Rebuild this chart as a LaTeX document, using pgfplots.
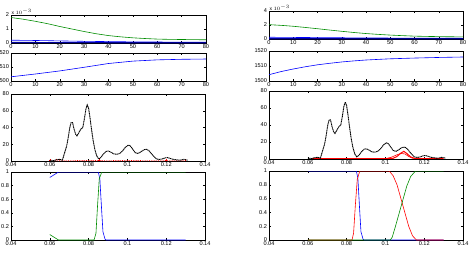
\documentclass[border=0pt]{standalone}
\usepackage{pgfplots}
\pgfplotsset{compat=1.18}
\usepackage{fontspec}
\setmainfont{Liberation Sans}
\pgfplotstableread{
x y
0.0600 1
0.0620 0.5
0.0635 1.5
0.0650 2
0.0665 1
0.0687 18
0.0695 28
0.0703 40
0.0710 46
0.0717 46
0.0725 38
0.0733 32
0.0740 30
0.0750 34
0.0760 38
0.0770 40
0.0778 50
0.0786 62
0.0793 67
0.0800 63
0.0807 52
0.0815 38
0.0823 25
0.0832 14
0.0842 6
0.0852 2.5
0.0862 4
0.0875 8
0.0890 11.5
0.0902 12
0.0915 10.5
0.0930 8.5
0.0945 8
0.0960 9
0.0975 12
0.0990 16.5
0.1005 19
0.1015 18
0.1028 14
0.1040 10
0.1055 9
0.1070 11
0.1085 13.5
0.1100 14
0.1112 12
0.1125 8.5
0.1138 5
0.1150 2.5
0.1165 1.8
0.1180 2.5
0.1195 3.8
0.1208 4
0.1222 3
0.1235 2
0.1250 1.5
0.1265 1
0.1278 1.2
0.1290 2
0.1300 1.5
0.1310 1
}\blackdata
\begin{document}
\begin{tikzpicture}
\pgfplotsset{
  every axis/.append style={
    scale only axis, anchor=north west,
    tick align=inside,
    axis line style={black, line width=0.5pt},
    major tick length=2pt,
    tick style={black, line width=0.3pt},
    ticklabel style={font=\fontsize{5.6}{6.5}\selectfont},
    /pgf/number format/assume math mode=true,
    xticklabel style={yshift=1.5pt},
    yticklabel style={xshift=1.5pt},
    clip mode=individual,
  },
  topax/.style={xmin=0, xmax=80, xtick={0,10,...,80}},
  distax/.style={xmin=0.04, xmax=0.14, xtick={0.04,0.06,0.08,0.1,0.12,0.14},
    xticklabels={0.04,0.06,0.08,0.1,0.12,0.14}},
}
\useasboundingbox (0pt,0pt) rectangle (473pt,-257pt);
% ---------- LEFT COLUMN ----------
\begin{axis}[at={(11pt,-15pt)}, width=195pt, height=28pt, topax,
  ymin=0, ymax=2, ytick={0,1,2}]
\addplot[green!55!black, line width=0.6pt] coordinates {(0,1.82) (5,1.7) (10,1.55) (15,1.38) (20,1.18) (25,1.0) (30,0.82) (35,0.66) (40,0.53) (45,0.44) (50,0.37) (55,0.32) (60,0.28) (65,0.26) (70,0.25) (75,0.24) (80,0.23)};
\addplot[blue, line width=0.6pt] coordinates {(0,0.2) (10,0.18) (20,0.15) (30,0.12) (40,0.1) (50,0.08) (60,0.07) (70,0.06) (80,0.05)};
\addplot[blue!60!black, line width=1.2pt] coordinates {(0,0.03) (40,0.025) (80,0.02)};
\node[anchor=south west, inner sep=0.5pt, font=\fontsize{5}{6}\selectfont] at (rel axis cs:0,1) {x $10^{-3}$};
\end{axis}
\begin{axis}[at={(11pt,-53pt)}, width=195pt, height=28pt, topax,
  ymin=1500, ymax=1520, ytick={1500,1510,1520},
  yticklabel style={/pgf/number format/set thousands separator={}}]
\addplot[blue, line width=0.6pt] coordinates {(0,1503) (10,1505) (20,1507.2) (30,1509.8) (40,1512.5) (50,1514.2) (60,1515.1) (70,1515.5) (80,1515.7)};
\end{axis}
\begin{axis}[at={(11pt,-94pt)}, width=194pt, height=67pt, distax,
  ymin=0, ymax=80, ytick={0,20,...,80}]
\addplot[red, line width=0.8pt, densely dotted] coordinates {(0.062,0.4) (0.07,0.4) (0.08,0.5) (0.09,0.4) (0.1,0.5) (0.11,0.4) (0.12,0.4) (0.13,0.3)};
\addplot[red, only marks, mark=+, mark size=0.8pt] coordinates {(0.06,1) (0.0635,1.8) (0.065,1.8) (0.0855,1.5) (0.12,1.2) (0.13,1)};
\addplot[black, line width=0.9pt, dash pattern=on 1.2pt off 0.5pt] table[x=x,y=y] {\blackdata};
\end{axis}
\begin{axis}[at={(11pt,-172pt)}, width=194pt, height=68pt, distax,
  ymin=0, ymax=1, ytick={0,0.2,...,1}, yticklabels={0,0.2,0.4,0.6,0.8,1}]
\addplot[blue, line width=0.6pt] coordinates {(0.06,0.92) (0.0645,1) (0.085,1) (0.0858,0.9) (0.0866,0.5) (0.0874,0.12) (0.0885,0.01) (0.089,0) (0.13,0)};
\addplot[green!55!black, line width=0.6pt] coordinates {(0.06,0.08) (0.0645,0) (0.0828,0) (0.0838,0.1) (0.0846,0.5) (0.0855,0.9) (0.0868,1) (0.13,1)};
\end{axis}
% ---------- RIGHT COLUMN ----------
\begin{axis}[at={(269pt,-11pt)}, width=194pt, height=28pt, topax,
  ymin=0, ymax=4, ytick={0,2,4}]
\addplot[green!55!black, line width=0.6pt] coordinates {(0,2.05) (5,1.95) (10,1.82) (15,1.65) (20,1.47) (25,1.28) (30,1.1) (35,0.93) (40,0.78) (45,0.66) (50,0.56) (55,0.48) (60,0.41) (65,0.37) (70,0.34) (75,0.32) (80,0.3)};
\addplot[blue, line width=0.6pt] coordinates {(0,0.25) (20,0.2) (40,0.15) (60,0.12) (80,0.1)};
\addplot[blue!60!black, line width=1.2pt] coordinates {(0,0.05) (40,0.04) (80,0.04)};
\node[anchor=south west, inner sep=0.5pt, font=\fontsize{5}{6}\selectfont] at (rel axis cs:0,1) {x $10^{-3}$};
\end{axis}
\begin{axis}[at={(269pt,-51pt)}, width=194pt, height=30pt, topax,
  ymin=1500, ymax=1520, ytick={1500,1510,1520},
  yticklabel style={/pgf/number format/set thousands separator={}}]
\addplot[blue, line width=0.6pt] coordinates {(0,1504.2) (5,1506.3) (10,1508) (15,1509.5) (20,1510.8) (25,1511.8) (30,1512.7) (35,1513.4) (40,1514) (50,1514.8) (60,1515.3) (70,1515.7) (80,1516)};
\end{axis}
\begin{axis}[at={(269pt,-91pt)}, width=194pt, height=68pt, distax,
  ymin=0, ymax=80, ytick={0,20,...,80}]
\addplot[red, line width=1.0pt] coordinates {(0.062,0.4) (0.07,0.5) (0.08,0.5) (0.09,0.5) (0.1,0.5) (0.104,0.8) (0.106,3) (0.108,7) (0.1095,9) (0.111,6.5) (0.113,2.5) (0.115,0.8) (0.12,0.4) (0.13,0.3)};
\addplot[red, line width=0.6pt] coordinates {(0.1,0.3) (0.103,2) (0.106,5) (0.108,6.5) (0.11,6) (0.112,3) (0.114,0.8) (0.117,0.3)};
\addplot[black, line width=0.9pt, dash pattern=on 1.2pt off 0.5pt] table[x=x,y=y] {\blackdata};
\end{axis}
\begin{axis}[at={(269pt,-171pt)}, width=194pt, height=69pt, distax,
  ymin=0, ymax=1, ytick={0,0.2,...,1}, yticklabels={0,0.2,0.4,0.6,0.8,1}]
\addplot[blue, line width=0.6pt] coordinates {(0.06,1) (0.085,1) (0.0858,0.9) (0.0866,0.5) (0.0874,0.12) (0.0885,0.01) (0.089,0) (0.13,0)};
\addplot[red, line width=0.6pt] coordinates {(0.06,0) (0.0828,0) (0.0836,0.1) (0.0845,0.5) (0.0855,0.88) (0.0868,1) (0.102,1) (0.104,0.93) (0.106,0.8) (0.108,0.6) (0.110,0.4) (0.112,0.2) (0.114,0.06) (0.116,0) (0.13,0)};
\addplot[green!55!black, line width=0.6pt] coordinates {(0.06,0) (0.1025,0) (0.1035,0.04) (0.105,0.18) (0.107,0.38) (0.109,0.58) (0.111,0.78) (0.113,0.92) (0.1155,1) (0.13,1)};
\end{axis}
\end{tikzpicture}
\end{document}
